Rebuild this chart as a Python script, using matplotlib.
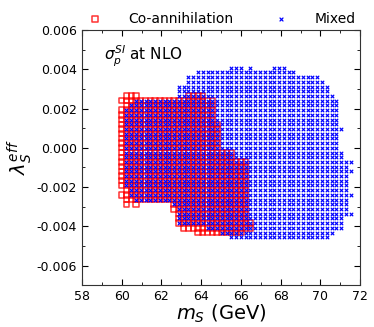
import numpy as np
import matplotlib
matplotlib.use('Agg')
import matplotlib.pyplot as plt
from matplotlib.ticker import MultipleLocator

# scan grid (GeV, dimensionless)
X_START, X_STEP = 60.0, 0.24
Y_START, Y_STEP = -0.006, 0.00024

# Co-annihilation: per-row segments (row lambda value, x from, x to)
red_y = [0.00264, 0.00264, 0.0024, 0.00216, 0.00192, 0.00168, 0.00144, 0.0012,
         0.00096, 0.00072, 0.00048, 0.00024, 0.0, -0.00024, -0.00048, -0.00072,
         -0.00096, -0.0012, -0.00144, -0.00168, -0.00192, -0.00216, -0.0024,
         -0.00264, -0.00288, -0.00288, -0.00288, -0.00312, -0.00336, -0.0036,
         -0.00384, -0.00408, -0.00432]
red_x0 = [60.35, 63.4, 60.1, 60.24, 60.0, 60.0, 60.0, 60.0,
          60.0, 60.0, 60.0, 60.0, 60.0, 60.0, 60.0, 60.0,
          60.0, 60.0, 60.0, 60.0, 60.0, 60.15, 60.0,
          60.15, 60.2, 60.7, 62.75, 62.75, 63.0, 63.0,
          63.0, 63.2, 63.9]
red_x1 = [60.8, 64.1, 64.6, 64.6, 64.6, 64.6, 64.6, 64.85,
          64.85, 64.85, 64.85, 64.85, 64.85, 65.5, 65.5, 66.2,
          66.2, 66.2, 66.2, 66.2, 66.2, 66.3, 66.3,
          66.3, 60.2, 60.7, 66.3, 66.3, 66.3, 66.3,
          66.45, 66.45, 66.0]

# Mixed: per-row segments
blue_y = [0.00408, 0.00408, 0.00408, 0.00384, 0.0036, 0.00336, 0.00312, 0.00288,
          0.00264, 0.0024, 0.00216, 0.00192, 0.00168, 0.00144, 0.0012, 0.00096,
          0.00072, 0.00048, 0.00024, 0.0, -0.00024, -0.00048, -0.00072, -0.00096,
          -0.0012, -0.00144, -0.00168, -0.00192, -0.00216, -0.0024, -0.00264,
          -0.00288, -0.00312, -0.00336, -0.0036, -0.00384, -0.00408, -0.00432,
          -0.00456]
blue_x0 = [65.6, 66.6, 67.8, 63.9, 63.25, 63.25, 62.77, 62.77,
           62.77, 60.7, 60.5, 60.24, 60.24, 60.24, 60.24, 60.24,
           60.24, 60.24, 60.24, 60.24, 60.24, 60.24, 60.24, 60.24,
           60.24, 60.24, 60.24, 60.24, 60.5, 60.5, 60.7,
           62.75, 62.9, 62.9, 62.9, 62.9, 64.2, 64.95,
           65.6]
blue_x1 = [65.9, 66.6, 68.1, 68.7, 69.9, 70.1, 70.37, 70.37,
           70.6, 70.85, 70.85, 70.85, 70.85, 70.85, 70.85, 71.1,
           70.85, 70.85, 70.85, 70.85, 71.07, 71.07, 71.58, 71.33,
           71.58, 71.33, 71.33, 71.33, 71.33, 71.58, 71.33,
           71.33, 71.33, 71.58, 71.07, 71.07, 71.07, 70.6,
           70.37]


def expand(ys, x0s, x1s):
  # turn row segments into the scan grid points they cover
  px, py = [], []
  for y, a, b in zip(ys, x0s, x1s):
    i0 = int(round((a - X_START) / X_STEP))
    i1 = int(round((b - X_START) / X_STEP))
    j = int(round((y - Y_START) / Y_STEP))
    for i in range(i0, i1 + 1):
      px.append(X_START + i * X_STEP)
      py.append(Y_START + j * Y_STEP)
  return np.array(px), np.array(py)


def main():
  rx, ry = expand(red_y, red_x0, red_x1)
  bx, by = expand(blue_y, blue_x0, blue_x1)

  fig = plt.figure(figsize=(3.74, 3.27), dpi=100)
  ax = fig.add_axes([0.219, 0.128, 0.744, 0.78])

  ax.scatter(rx, ry, marker='s', s=15, facecolors='none', edgecolors=(1, 0, 0, 0.8),
             linewidths=1.1, label='Co-annihilation', zorder=2)
  ax.scatter(bx, by, marker='x', s=6, color='#0000ff', linewidths=0.85,
             label='Mixed', zorder=3)

  ax.set_xlim(58, 72)
  ax.set_ylim(-0.007, 0.006)
  ax.xaxis.set_major_locator(MultipleLocator(2))
  ax.xaxis.set_minor_locator(MultipleLocator(1))
  ax.yaxis.set_major_locator(MultipleLocator(0.002))
  ax.yaxis.set_minor_locator(MultipleLocator(0.001))
  ax.yaxis.set_major_formatter(matplotlib.ticker.FormatStrFormatter('%.3f'))
  ax.tick_params(which='both', direction='in', top=True, right=True, labelsize=9)
  ax.tick_params(which='major', length=4)
  ax.tick_params(which='minor', length=2)
  for s in ax.spines.values():
    s.set_color('#333333')

  ax.set_xlabel(r'$m_S$ (GeV)', fontsize=14, labelpad=0)
  ax.set_ylabel(r'$\lambda_S^{eff}$', fontsize=14, labelpad=2)
  ax.text(0.08, 0.88, r'$\sigma_p^{SI}$ at NLO', transform=ax.transAxes, fontsize=11)

  ax.legend(loc='lower center', bbox_to_anchor=(0.49, 0.99), ncol=2, frameon=False,
            fontsize=10, columnspacing=2.4, handletextpad=1.4, borderaxespad=0.1,
            markerscale=1.1)

  fig.savefig('out.png', dpi=100)


if __name__ == '__main__':
  main()
